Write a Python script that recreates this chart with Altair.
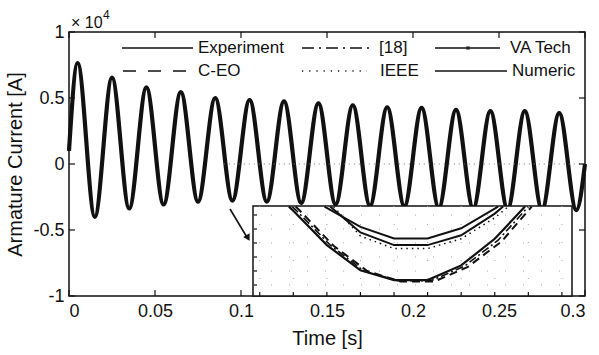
import altair as alt
import pandas as pd

FONT = "Liberation Sans"
INK = "#111111"

# ---- main trace: armature current (A), alternating extrema of the decaying oscillation
peak_time = [0.005, 0.025, 0.045, 0.065, 0.085, 0.105, 0.125, 0.145,
             0.165, 0.185, 0.205, 0.225, 0.245, 0.265, 0.285]
peak_amp = [7650, 6550, 5800, 5450, 5000, 4850, 4750, 4600,
            4450, 4300, 4250, 4100, 4000, 4000, 3850]
trough_time = [0.015, 0.035, 0.055, 0.075, 0.095, 0.115, 0.135, 0.155,
               0.175, 0.195, 0.215, 0.235, 0.255, 0.275, 0.295]
trough_amp = [-4000, -3370, -3070, -2850, -2770, -2850, -2950, -3050,
              -3150, -3200, -3300, -3350, -3400, -3450, -3500]
start_time, start_amp = 0.0, 1000
end_time, end_amp = 0.3, 0

x_ticks = [0, 0.05, 0.1, 0.15, 0.2, 0.25, 0.3]
y_ticks = [-10000, -5000, 0, 5000, 10000]

# ---- zoomed view of one negative half-cycle (inset units)
exp_k = [0.87, 1.0, 2.0, 3.0, 4.0, 5.0, 6.0, 7.0, 7.9]
exp_v = [5.6, 5.3, 2.85, 1.05, 0.35, 0.35, 1.4, 3.3, 5.6]
ceo_k = [1.07, 1.2, 2.2, 3.2, 4.2, 5.2, 6.2, 7.2, 8.1]
ceo_v = [5.6, 5.3, 2.8, 1.0, 0.25, 0.25, 1.3, 3.1, 5.6]
ref18_k = [0.97, 1.1, 2.1, 3.1, 4.1, 5.1, 6.1, 7.1, 8.0]
ref18_v = [5.6, 5.3, 2.85, 1.0, 0.3, 0.3, 1.35, 3.2, 5.6]
vatech_k = [1.93, 3.0, 4.0, 5.0, 6.0, 7.1]
vatech_v = [5.6, 4.15, 3.33, 3.33, 4.05, 5.6]
numeric_k = [2.1, 3.0, 4.0, 5.0, 6.0, 7.0, 7.25]
numeric_v = [5.6, 3.75, 2.85, 2.85, 3.55, 5.1, 5.6]
ieee_k = [2.2, 3.0, 4.0, 5.0, 6.0, 7.0, 7.4]
ieee_v = [5.6, 3.5, 2.6, 2.6, 3.3, 4.8, 5.6]
inset_k_ticks = list(range(10))
inset_v_ticks = list(range(6))

W, H = 516, 264

# ---------------------------------------------------------------- main panel
times = [start_time]
amps = [start_amp]
for pt, pa, tt, ta in zip(peak_time, peak_amp, trough_time, trough_amp):
    times += [pt, tt]
    amps += [pa, ta]
times.append(end_time)
amps.append(end_amp)
wave = pd.DataFrame({"t": times, "i": amps})

x_main = alt.Scale(domain=[0, 0.3], nice=False, zero=False)
y_main = alt.Scale(domain=[-10000, 10000], nice=False, zero=False)
x_axis = alt.Axis(values=x_ticks, labelExpr="datum.value + ''",
                  title="Time [s]", ticks=False, domain=False, grid=False,
                  labelPadding=6, titlePadding=8)
y_axis = alt.Axis(values=y_ticks, labelExpr="datum.value / 10000 + ''",
                  title="Armature Current [A]", ticks=False, domain=False,
                  grid=False, labelPadding=5, titlePadding=7)

curve = alt.Chart(wave).mark_line(
    interpolate="monotone", color=INK, strokeWidth=4.2
).encode(
    x=alt.X("t:Q", scale=x_main, axis=x_axis),
    y=alt.Y("i:Q", scale=y_main, axis=y_axis),
)

zero_dots = alt.Chart(pd.DataFrame({"t": [0.09], "t2": [0.3], "i": [0]})).mark_rule(
    color="#777777", strokeDash=[1, 4], strokeWidth=1
).encode(
    x=alt.X("t:Q", scale=x_main, axis=x_axis), x2="t2",
    y=alt.Y("i:Q", scale=y_main, axis=y_axis),
)

xt = pd.DataFrame({"t": x_ticks})
yt = pd.DataFrame({"i": y_ticks})
tick_style = dict(color=INK, strokeWidth=1.2)
ticks_bottom = alt.Chart(xt).mark_rule(**tick_style).encode(
    x=alt.X("t:Q", scale=x_main, axis=x_axis), y=alt.value(H), y2=alt.value(H - 6))
ticks_top = alt.Chart(xt).mark_rule(**tick_style).encode(
    x=alt.X("t:Q", scale=x_main, axis=x_axis), y=alt.value(0), y2=alt.value(6))
ticks_left = alt.Chart(yt).mark_rule(**tick_style).encode(
    y=alt.Y("i:Q", scale=y_main, axis=y_axis), x=alt.value(0), x2=alt.value(6))
ticks_right = alt.Chart(yt).mark_rule(**tick_style).encode(
    y=alt.Y("i:Q", scale=y_main, axis=y_axis), x=alt.value(W), x2=alt.value(W - 6))

one = pd.DataFrame({"a": [0]})


def key_line(x1, x2, y, dash=None, width=1.6):
    kw = dict(color=INK, strokeWidth=width)
    if dash:
        kw["strokeDash"] = dash
    return alt.Chart(one).mark_rule(**kw).encode(
        x=alt.value(x1), x2=alt.value(x2), y=alt.value(y))


def key_text(x, y, label, size=17):
    return alt.Chart(one).mark_text(
        text=label, font=FONT, fontSize=size, color=INK, align="left", baseline="middle"
    ).encode(x=alt.value(x), y=alt.value(y))


legend = [
    key_line(53, 124, 16), key_text(129, 16, "Experiment"),
    key_line(233, 303, 16, [12, 5, 2, 5]), key_text(310, 16, "[18]"),
    key_line(366, 431, 16), key_text(441, 16, "VA Tech"),
    alt.Chart(one).mark_point(shape="square", filled=True, color=INK, size=12).encode(
        x=alt.value(399), y=alt.value(16)),
    key_line(54, 123, 39, [13, 12]), key_text(129, 39, "C-EO"),
    key_line(233, 298, 39, [1.2, 6], 1.3), key_text(311, 39, "IEEE"),
    key_line(366, 438, 39), key_text(443, 39, "Numeric"),
]

exponent = [
    alt.Chart(one).mark_text(text="× 10", font=FONT, fontSize=16, color=INK,
                             align="left", baseline="middle").encode(
        x=alt.value(2), y=alt.value(-9)),
    alt.Chart(one).mark_text(text="4", font=FONT, fontSize=12, color=INK,
                             align="left", baseline="middle").encode(
        x=alt.value(34), y=alt.value(-17)),
]

arrow = [
    alt.Chart(one).mark_rule(color=INK, strokeWidth=1.6).encode(
        x=alt.value(161), y=alt.value(177), x2=alt.value(179), y2=alt.value(207)),
    alt.Chart(one).mark_point(shape="triangle-down", filled=True, color=INK,
                              size=55, angle=330, opacity=1).encode(
        x=alt.value(179), y=alt.value(206)),
]

main = alt.layer(curve, zero_dots, ticks_bottom, ticks_top, ticks_left, ticks_right,
                 *legend, *exponent, *arrow)

# ---------------------------------------------------------------- inset panel
k_lo, k_hi = -0.2, 9.3
v_lo, v_hi = -0.786, 5.643
x_in = alt.Scale(domain=[k_lo, k_hi], range=[184, 503], nice=False, zero=False)
y_in = alt.Scale(domain=[v_lo, v_hi], range=[H, 174], nice=False, zero=False)
X0, X1 = 184, 503

box = alt.Chart(pd.DataFrame({"k0": [k_lo], "k1": [k_hi], "v0": [v_lo], "v1": [v_hi]})).mark_rect(
    fill="white", stroke=INK, strokeWidth=1.5
).encode(
    x=alt.X("k0:Q", scale=x_in, axis=None), x2="k1",
    y=alt.Y("v0:Q", scale=y_in, axis=None), y2="v1",
)

kt = pd.DataFrame({"k": inset_k_ticks})
vt = pd.DataFrame({"v": inset_v_ticks})
grid_h = alt.Chart(vt).mark_rule(color="#aaaaaa", strokeDash=[1, 17], strokeWidth=1).encode(
    y=alt.Y("v:Q", scale=y_in, axis=None), x=alt.value(X0), x2=alt.value(X1))
grid_v = alt.Chart(kt).mark_rule(color="#aaaaaa", strokeDash=[1, 17], strokeWidth=1).encode(
    x=alt.X("k:Q", scale=x_in, axis=None), y=alt.value(174), y2=alt.value(H))
in_ticks_left = alt.Chart(vt).mark_rule(color=INK, strokeWidth=1.2).encode(
    y=alt.Y("v:Q", scale=y_in, axis=None), x=alt.value(X0), x2=alt.value(X0 + 4))
in_ticks_bottom = alt.Chart(kt).mark_rule(color=INK, strokeWidth=1.2).encode(
    x=alt.X("k:Q", scale=x_in, axis=None), y=alt.value(H), y2=alt.value(H - 4))


def inset_series(ks, vs, width, dash=None):
    kw = dict(color=INK, strokeWidth=width)
    if dash:
        kw["strokeDash"] = dash
    df = pd.DataFrame({"k": ks, "v": vs})
    return alt.Chart(df).mark_line(**kw).encode(
        x=alt.X("k:Q", scale=x_in, axis=None),
        y=alt.Y("v:Q", scale=y_in, axis=None),
    )


inset = alt.layer(
    box, grid_h, grid_v, in_ticks_left, in_ticks_bottom,
    inset_series(ieee_k, ieee_v, 1.5, [1.5, 4]),
    inset_series(numeric_k, numeric_v, 2.0),
    inset_series(vatech_k, vatech_v, 2.0),
    inset_series(ref18_k, ref18_v, 1.6, [8, 3, 2, 3]),
    inset_series(ceo_k, ceo_v, 2.0, [8, 5]),
    inset_series(exp_k, exp_v, 2.2),
)

chart = alt.layer(main, inset).resolve_scale(
    x="independent", y="independent"
).properties(
    width=W, height=H,
    autosize=alt.AutoSizeParams(type="none"),
    padding={"left": 69, "top": 32, "right": 14, "bottom": 59},
    background="white",
).configure_view(
    stroke=INK, strokeWidth=1.5
).configure_axis(
    labelFont=FONT, labelFontSize=18, labelColor=INK,
    titleFont=FONT, titleFontSize=20, titleColor=INK, titleFontWeight="normal",
)

chart.save("out.html", embed_options={"renderer": "svg", "actions": False})
